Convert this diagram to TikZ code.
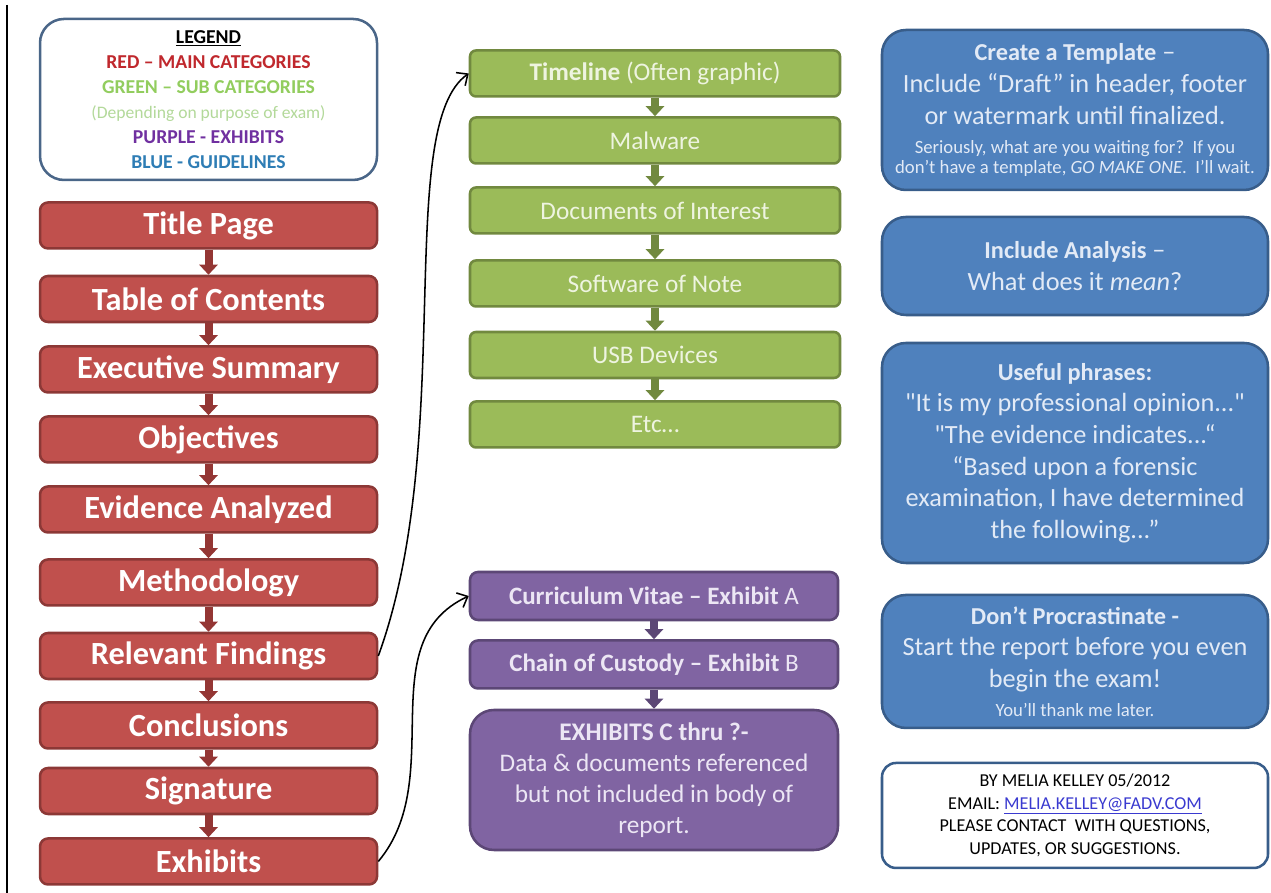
\documentclass[tikz,border=0pt]{standalone}
\usepackage{fontspec}
\setmainfont{Carlito}
\usetikzlibrary{arrows.meta}
\definecolor{mainfill}{HTML}{C0504D}
\definecolor{mainline}{HTML}{8C3836}
\definecolor{mainstep}{HTML}{943634}
\definecolor{subfill}{HTML}{9BBB59}
\definecolor{subline}{HTML}{71893F}
\definecolor{subtext}{HTML}{EEF4E0}
\definecolor{exfill}{HTML}{8064A2}
\definecolor{exline}{HTML}{5C4776}
\definecolor{extext}{HTML}{ECE6F4}
\definecolor{guidefill}{HTML}{4F81BD}
\definecolor{guideline}{HTML}{385D8A}
\definecolor{guidetext}{HTML}{E2EAF6}
\definecolor{legendline}{HTML}{4A6688}
\definecolor{keyred}{HTML}{C0282D}
\definecolor{keygreen}{HTML}{92CD5E}
\definecolor{keylight}{HTML}{B3D99A}
\definecolor{keypurple}{HTML}{7030A0}
\definecolor{keyblue}{HTML}{2E7DB5}
\definecolor{mailblue}{HTML}{3A3AD0}
\tikzset{
  legendbox/.style={draw=legendline, fill=white, line width=1.8pt, rounded corners=0.6cm, minimum width=8.425cm, minimum height=4.025cm, align=center, font=\fontsize{14}{17.8}\selectfont\bfseries},
  mainbox/.style={draw=mainline, fill=mainfill, line width=1.8pt, rounded corners=0.2cm, minimum width=8.425cm, minimum height=1.15cm, text=white, font=\fontsize{23}{27}\selectfont\bfseries},
  subbox/.style={draw=subline, fill=subfill, line width=1.8pt, rounded corners=0.15cm, minimum width=9.25cm, minimum height=1.15cm, text=subtext, font=\fontsize{18}{22}\selectfont},
  exbox/.style={draw=exline, fill=exfill, line width=1.8pt, rounded corners=0.2cm, minimum width=9.2cm, minimum height=1.2cm, text=extext, align=center, font=\fontsize{18}{22}\selectfont},
  guidebox/.style={draw=guideline, fill=guidefill, line width=1.8pt, rounded corners=0.6cm, minimum width=9.65cm, text=guidetext, align=center, font=\fontsize{18.7}{22.5}\selectfont},
  contactbox/.style={draw=guideline, fill=white, line width=1.8pt, rounded corners=0.35cm, minimum width=9.65cm, minimum height=2.625cm, align=center, font=\fontsize{12.9}{16.2}\selectfont},
  mainstep/.style={draw=mainstep, line width=0.2cm, -{Triangle[length=0.25cm,width=0.45cm]}},
  substep/.style={draw=subline, line width=0.2cm, -{Triangle[length=0.25cm,width=0.45cm]}},
  exstep/.style={draw=exline, line width=0.2cm, -{Triangle[length=0.25cm,width=0.45cm]}},
  link/.style={draw=black, line width=1.1pt, -{Straight Barb[length=0.22cm,width=0.4cm]}},
}
\newcommand{\headline}{\bfseries\fontsize{17.3}{20}\selectfont}
\newcommand{\smallline}{\fontsize{13.3}{15}\selectfont}
\begin{document}
\begin{tikzpicture}
\useasboundingbox (0,0) rectangle (31.775,22.325);
\draw[black, line width=1.4pt] (0.175,22.2) -- (0.175,0);
\node[legendbox] (legend) at (5.213,19.838) {\underline{LEGEND}\\
  \textcolor{keyred}{RED -- MAIN CATEGORIES}\\
  \textcolor{keygreen}{GREEN -- SUB CATEGORIES}\\
  {\mdseries\fontsize{12.5}{15}\selectfont\textcolor{keylight}{(Depending on purpose of exam)}}\\
  \textcolor{keypurple}{PURPLE - EXHIBITS}\\
  \textcolor{keyblue}{BLUE - GUIDELINES}};
\node[mainbox] (title) at (5.213,16.688) {Title Page};
\node[mainbox] (toc) at (5.213,14.850) {Table of Contents};
\node[mainbox] (execsum) at (5.213,13.088) {Executive Summary};
\node[mainbox] (objectives) at (5.213,11.338) {Objectives};
\node[mainbox] (evidence) at (5.213,9.588) {Evidence Analyzed};
\node[mainbox] (method) at (5.213,7.763) {Methodology};
\node[mainbox] (findings) at (5.213,5.925) {Relevant Findings};
\node[mainbox] (conclusions) at (5.213,4.188) {Conclusions};
\node[mainbox] (signature) at (5.213,2.550) {Signature};
\node[mainbox] (exhibits) at (5.213,0.788) {Exhibits};
\draw[mainstep] (title) -- (toc);
\draw[mainstep] (toc) -- (execsum);
\draw[mainstep] (execsum) -- (objectives);
\draw[mainstep] (objectives) -- (evidence);
\draw[mainstep] (evidence) -- (method);
\draw[mainstep] (method) -- (findings);
\draw[mainstep] (findings) -- (conclusions);
\draw[mainstep] (conclusions) -- (signature);
\draw[mainstep] (signature) -- (exhibits);
\node[subbox] (timeline) at (16.375,20.488) {\textbf{Timeline} (Often graphic)};
\node[subbox] (malware) at (16.375,18.813) {Malware};
\node[subbox] (documents) at (16.375,17.063) {Documents of Interest};
\node[subbox] (software) at (16.375,15.238) {Software of Note};
\node[subbox] (usb) at (16.375,13.450) {USB Devices};
\node[subbox] (etc) at (16.375,11.713) {Etc\dots};
\draw[substep] (timeline) -- (malware);
\draw[substep] (malware) -- (documents);
\draw[substep] (documents) -- (software);
\draw[substep] (software) -- (usb);
\draw[substep] (usb) -- (etc);
\node[exbox, font=\fontsize{17.8}{21}\selectfont] (cv) at (16.350,7.425) {\textbf{Curriculum Vitae -- Exhibit} A};
\node[exbox, font=\fontsize{17.8}{21}\selectfont] (custody) at (16.350,5.713) {\textbf{Chain of Custody -- Exhibit} B};
\node[exbox, rounded corners=0.6cm, minimum height=3.5cm] (exhibitsc) at (16.350,2.825) {{\bfseries EXHIBITS C thru ?-}\\
  Data \& documents referenced\\
  but not included in body of\\
  report.};
\draw[exstep] (cv) -- (custody);
\draw[exstep] (custody) -- (exhibitsc);
\draw[link] (findings.east) to[out=70, in=215, out looseness=1, in looseness=0.4] (timeline.west);
\draw[link] (exhibits.east) to[out=50, in=205] (cv.west);
\node[guidebox, minimum height=4.0cm] (template) at (26.875,19.575) {{\headline Create a Template} --\\
  Include “Draft” in header, footer\\
  or watermark until finalized.\\[-1.9pt]
  {\smallline Seriously, what are you waiting for?\ \ If you}\\[-8.3pt]
  {\smallline don’t have a template, \textit{GO MAKE ONE}.\ \ I’ll wait.}};
\node[guidebox, minimum height=2.45cm] (analysis) at (26.875,15.675) {{\headline Include Analysis} --\\
  What does it \textit{mean}?};
\node[guidebox, minimum height=5.5cm] (phrases) at (26.875,11.000) {{\headline Useful phrases:}\\
  \textquotedbl It is my professional opinion...\textquotedbl\\
  \textquotedbl The evidence indicates...“\\
  “Based upon a forensic\\
  examination, I have determined\\
  the following...”};
\node[guidebox, minimum height=3.325cm] (procrast) at (26.875,5.788) {{\headline Don’t Procrastinate -}\\
  Start the report before you even\\
  begin the exam!\\[-1.9pt]
  {\smallline You’ll thank me later.}};
\node[contactbox] (contact) at (26.875,1.938) {BY MELIA KELLEY 05/2012\\
  EMAIL: \textcolor{mailblue}{\underline{MELIA.KELLEY@FADV.COM}}\\
  PLEASE CONTACT\ \ WITH QUESTIONS,\\
  UPDATES, OR SUGGESTIONS.};
\end{tikzpicture}
\end{document}
